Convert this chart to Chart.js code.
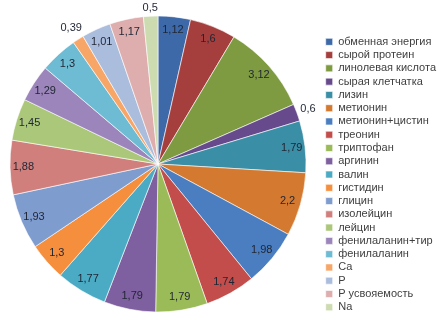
<!DOCTYPE html>
<html>
<head>
<meta charset="utf-8">
<script src="https://cdn.jsdelivr.net/npm/chart.js"></script>
<style>
  body { margin: 0; background: #fff; }
</style>
</head>
<body>
<canvas id="graficoPastel" width="447" height="320"></canvas>
<script>
const nombres = [
  'обменная энергия', 'сырой протеин', 'линолевая кислота', 'сырая клетчатка',
  'лизин', 'метионин', 'метионин+цистин', 'треонин', 'триптофан', 'аргинин',
  'валин', 'гистидин', 'глицин', 'изолейцин', 'лейцин', 'фенилаланин+тир',
  'фенилаланин', 'Ca', 'P', 'P усвояемость', 'Na'
]
const valores = [1.12, 1.6, 3.12, 0.6, 1.79, 2.2, 1.98, 1.74, 1.79, 1.79, 1.77,
  1.3, 1.93, 1.88, 1.45, 1.29, 1.3, 0.39, 1.01, 1.17, 0.5]
const colores = [
  '#3d69a8', '#a53f3d', '#7f9b42', '#664a8c', '#3a8ea5', '#d47a30',
  '#4a7ec0', '#c24d4a', '#9bbb59', '#7e5f9f', '#4babc4', '#f58f3d',
  '#7f9ccf', '#d07f7d', '#abc87a', '#9c85ba', '#6ebbd4', '#f7a668',
  '#abbddd', '#ddaead', '#cddbb0'
]

// etiquetas de valores sobre cada sector
const etiquetas = {
  id: 'etiquetas',
  afterDatasetsDraw(chart) {
    const ctx = chart.ctx
    const meta = chart.getDatasetMeta(0)
    ctx.save()
    ctx.font = '11px "Liberation Sans"'
    ctx.fillStyle = '#1f2533'
    ctx.textAlign = 'center'
    ctx.textBaseline = 'middle'
    meta.data.forEach((arco, i) => {
      const p = arco.getProps(['x', 'y', 'startAngle', 'endAngle', 'outerRadius'], true)
      const medio = (p.startAngle + p.endAngle) / 2
      const texto = String(valores[i]).replace('.', ',')
      const ancho = ctx.measureText(texto).width
      let d = p.outerRadius * 0.91
      if (valores[i] < 1) {
        d = p.outerRadius + 3 + ancho / 2 * Math.abs(Math.cos(medio)) + 5 * Math.abs(Math.sin(medio))
      }
      ctx.fillText(texto, p.x + Math.cos(medio) * d, p.y + Math.sin(medio) * d)
    })
    ctx.restore()
  }
}

const pastel = document.getElementById('graficoPastel')

new Chart(pastel, {
  type: 'pie',
  data: {
    labels: nombres,
    datasets: [
      {
        data: valores,
        backgroundColor: colores,
        borderColor: 'rgba(255,255,255,0.6)',
        borderWidth: 1,
      },
    ],
  },
  options: {
    responsive: false,
    animation: false,
    layout: {
      padding: { left: 9.5, top: 13, bottom: 5, right: 1 },
    },
    plugins: {
      // hueco vacio entre el pastel y la leyenda
      title: {
        display: true,
        text: '',
        position: 'right',
        weight: 500,
        padding: 0,
        font: { size: 10, lineHeight: 1.69 },
      },
      legend: {
        position: 'right',
        align: 'end',
        maxWidth: 200,
        labels: {
          boxWidth: 7,
          boxHeight: 7,
          padding: 2.27,
          color: '#404040',
          font: { family: 'Liberation Sans', size: 11 },
        },
      },
      tooltip: { enabled: false },
    },
  },
  plugins: [etiquetas],
})
</script>
</body>
</html>
